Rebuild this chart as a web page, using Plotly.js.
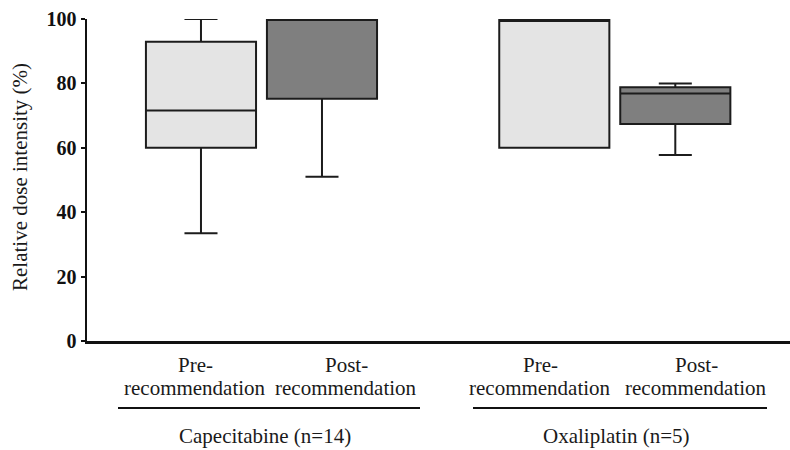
<!DOCTYPE html>
<html>
<head>
<meta charset="utf-8">
<script src="https://cdn.plot.ly/plotly-3.0.1.min.js"></script>
<style>html,body{margin:0;padding:0;background:#fff;}#chart{width:790px;height:450px;}</style>
</head>
<body>
<div id="chart"></div>
<script>
// ---- data ----
const groupLabels = ["Capecitabine (n=14)", "Oxaliplatin (n=5)"];
const phaseTop = ["Pre-", "Post-"];
const phaseBottom = ["recommendation", "recommendation"];
const lowerWhisker = [33.5, 51.0, 60.0, 57.8];
const q1Values     = [60.0, 75.2, 60.0, 67.4];
const medianValues = [71.6, 100.0, 99.4, 76.9];
const q3Values     = [92.9, 100.0, 100.0, 78.8];
const upperWhisker = [100.0, 100.0, 100.0, 80.0];
const yTicks = [0, 20, 40, 60, 80, 100];

// ---- layout helpers ----
const fills = ["#e4e4e4", "#7f7f7f"];
const groupStep = 2.92;
const traces = [];
for (let g = 0; g < groupLabels.length; g++) {
  for (let p = 0; p < phaseTop.length; p++) {
    const i = g * 2 + p;
    traces.push({
      type: "box",
      x: [1 + g * groupStep + p],
      q1: [q1Values[i]],
      median: [medianValues[i]],
      q3: [q3Values[i]],
      lowerfence: [lowerWhisker[i]],
      upperfence: [upperWhisker[i]],
      width: 0.91,
      whiskerwidth: 0.3,
      fillcolor: fills[p],
      line: {color: "#1c1c1c", width: 2},
      boxpoints: false,
      hoverinfo: "skip",
      showlegend: false
    });
  }
}

const L = 87, W = 703, T = 19, H = 322;
const px = v => (v - L) / W;
const py = v => (T + H - v) / H;
const serif = "'Liberation Serif', 'Times New Roman', Times, serif";
const txtFont = {family: serif, size: 21, color: "#1a1a1a"};

const labelCenters = [[195, 346], [540, 696]];
const annotations = [];
const shapes = [];
const underline = [[118, 420], [473, 767]];
for (let g = 0; g < groupLabels.length; g++) {
  for (let p = 0; p < phaseTop.length; p++) {
    annotations.push({xref: "paper", yref: "paper", x: px(labelCenters[g][p]), y: py(364.5),
      text: phaseTop[p], showarrow: false, xanchor: "center", yanchor: "middle", font: txtFont});
    annotations.push({xref: "paper", yref: "paper", x: px(labelCenters[g][p]), y: py(388),
      text: phaseBottom[p], showarrow: false, xanchor: "center", yanchor: "middle", font: txtFont});
  }
  annotations.push({xref: "paper", yref: "paper", x: px((underline[g][0] + underline[g][1]) / 2 - 4), y: py(436),
    text: groupLabels[g], showarrow: false, xanchor: "center", yanchor: "middle", font: txtFont});
  shapes.push({type: "line", xref: "paper", yref: "paper",
    x0: px(underline[g][0]), x1: px(underline[g][1]), y0: py(408), y1: py(408),
    line: {color: "#111", width: 2}});
}
annotations.push({xref: "paper", yref: "paper", x: px(20), y: 0.5, yshift: 3,
  text: "Relative dose intensity (%)", showarrow: false, textangle: -90,
  xanchor: "center", yanchor: "middle", font: txtFont});

const layout = {
  width: 790, height: 450,
  margin: {l: L, r: 0, t: T, b: 450 - T - H},
  paper_bgcolor: "#fff", plot_bgcolor: "#fff",
  boxmode: "overlay",
  showlegend: false,
  font: {family: serif},
  xaxis: {range: [0.058, 0.058 + W / 121], showline: true, linecolor: "#111", linewidth: 2.5,
    showticklabels: false, ticks: "", showgrid: false, zeroline: false, fixedrange: true},
  yaxis: {range: [0, 100], showline: true, linecolor: "#111", linewidth: 2.5,
    tickvals: yTicks, ticktext: yTicks.map(v => "<b>" + v + "</b>"),
    ticks: "outside", ticklen: 4, tickwidth: 2, tickcolor: "#111",
    tickfont: {family: serif, size: 20, color: "#111"},
    showgrid: false, zeroline: false, fixedrange: true},
  annotations: annotations,
  shapes: shapes
};

Plotly.newPlot("chart", traces, layout, {staticPlot: true, displayModeBar: false});
</script>
</body>
</html>
